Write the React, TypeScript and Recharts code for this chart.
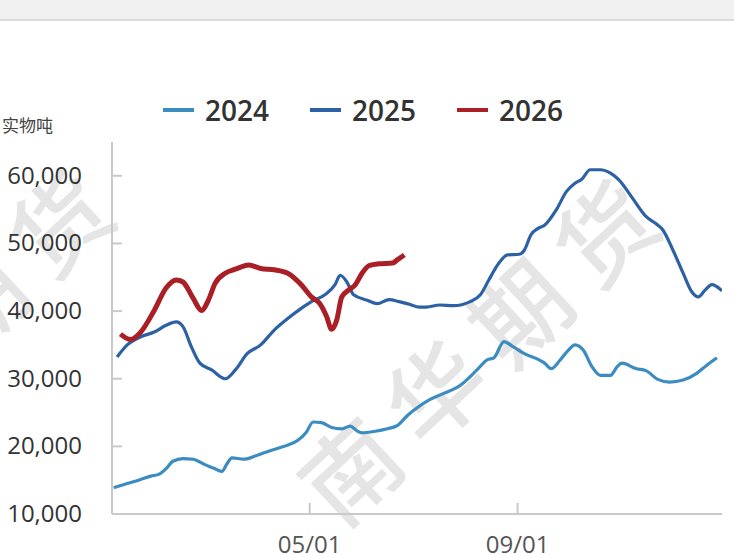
import React from 'react';
import { LineChart, Line, XAxis, YAxis } from 'recharts';

// x = day of year (Jan 1 = 0), values in 实物吨
const days2024 = [4, 12, 20, 26, 31, 35, 39, 45, 51, 58, 63, 68, 71, 74, 81, 89, 97, 105, 113, 118, 122, 127, 133, 139, 144, 148, 151, 158, 166, 172, 178, 183, 191, 199, 209, 219, 225, 229, 235, 240, 248, 254, 259, 263, 268, 273, 277, 282, 287, 292, 298, 302, 305, 313, 319, 326, 333, 341, 349, 355, 361];
const values2024 = [13900, 14500, 15100, 15600, 15900, 16700, 17800, 18200, 18100, 17300, 16800, 16300, 17400, 18300, 18100, 18700, 19400, 20000, 20900, 22100, 23600, 23500, 22800, 22600, 23000, 22300, 22000, 22200, 22600, 23100, 24600, 25600, 26900, 27800, 29000, 31300, 32800, 33100, 35500, 34800, 33600, 33000, 32300, 31500, 32700, 34200, 35000, 34200, 31800, 30500, 30500, 31800, 32300, 31500, 31200, 29900, 29500, 29800, 30800, 32000, 33100];

const days2025 = [6, 12, 20, 28, 35, 41, 45, 50, 55, 62, 70, 76, 83, 91, 99, 107, 115, 121, 129, 135, 138, 142, 146, 154, 160, 167, 173, 179, 185, 189, 197, 205, 215, 221, 226, 232, 237, 244, 247, 251, 255, 259, 266, 272, 277, 281, 286, 292, 298, 303, 311, 319, 325, 329, 335, 341, 346, 350, 354, 358, 364];
const values2025 = [33200, 35000, 36200, 36900, 37900, 38400, 37700, 34700, 32300, 31300, 30000, 31300, 33700, 35000, 37200, 38900, 40400, 41400, 42400, 43900, 45300, 44300, 42400, 41600, 41100, 41700, 41400, 41000, 40600, 40600, 40900, 40800, 41400, 42400, 44600, 47100, 48300, 48400, 49000, 51300, 52200, 52700, 55000, 57700, 58900, 59500, 60900, 60900, 60400, 59400, 56700, 54000, 52900, 52000, 49000, 45600, 42900, 42100, 43100, 43900, 43000];

const days2026 = [8, 14, 20, 28, 35, 41, 45, 51, 56, 60, 64, 70, 76, 84, 91, 99, 107, 115, 121, 126, 130, 133, 136, 139, 143, 147, 151, 155, 161, 169, 172, 176];
const values2026 = [36600, 35800, 36900, 40100, 43400, 44600, 44300, 41900, 40100, 41600, 44100, 45600, 46200, 46800, 46300, 46100, 45600, 43900, 42100, 41100, 39200, 37300, 38700, 42100, 43100, 43900, 45600, 46700, 47000, 47100, 47600, 48300];

const xTicks = [120, 243];
const xTickLabels = ['05/01', '09/01'];
const yTicks = [10000, 20000, 30000, 40000, 50000, 60000];

const toRows = (days: number[], vals: number[]) => days.map((d, i) => ({ day: d, value: vals[i] }));

const series = [
  { name: '2024', color: '#3b8cc0', width: 3.2, data: toRows(days2024, values2024) },
  { name: '2025', color: '#2d61a5', width: 3.2, data: toRows(days2025, values2025) },
  { name: '2026', color: '#aa1f25', width: 5, data: toRows(days2026, values2026) },
];

const axisColor = '#c9c9c9';

const YTick = (props: any) => {
  const { x, y, payload } = props;
  return (
    <g>
      <line x1={x + 30} x2={x + 40} y1={y} y2={y} stroke={axisColor} strokeWidth={2} />
      <text x={x} y={y} dy={8} textAnchor="end" fill="#333" fontSize={24} fontFamily="'Open Sans', sans-serif">
        {payload.value.toLocaleString('en-US')}
      </text>
    </g>
  );
};

const XTick = (props: any) => {
  const { x, y, payload } = props;
  const idx = xTicks.indexOf(payload.value);
  return (
    <g>
      <line x1={x} x2={x} y1={y - 31} y2={y - 42} stroke={axisColor} strokeWidth={2} />
      <text x={x} y={y} dy={8} textAnchor="middle" fill="#555" fontSize={24} fontFamily="'Open Sans', sans-serif">
        {xTickLabels[idx]}
      </text>
    </g>
  );
};

// background watermark
const Watermark = () => (
  <svg width={734} height={554} style={{ position: 'absolute', left: 0, top: 0 }}>
    {[[482, 342], [-63, 332]].map(([cx, cy], i) => (
      <text
        key={i}
        x={cx}
        y={cy}
        textAnchor="middle"
        dominantBaseline="central"
        fontSize={96}
        fontWeight={500}
        letterSpacing={20}
        fill="#e5e5e5"
        fontFamily="'Noto Sans CJK SC', sans-serif"
        transform={`rotate(-43 ${cx} ${cy})`}
      >
        南华期货
      </text>
    ))}
  </svg>
);

export default function App() {
  return (
    <div style={{ position: 'absolute', left: 0, top: 0, width: 734, height: 554, background: '#fff', overflow: 'hidden' }}>
      <div style={{ position: 'absolute', left: 0, top: 0, width: 734, height: 19, background: '#f1f1f1', borderBottom: '2px solid #dcdcdc' }} />
      <Watermark />
      <div style={{ position: 'absolute', left: 163, top: 91, display: 'flex', alignItems: 'center', height: 38 }}>
        {series.map((s) => (
          <div key={s.name} style={{ display: 'flex', alignItems: 'center', marginRight: 41 }}>
            <div style={{ width: 31, height: 4, background: s.color, marginRight: 11 }} />
            <span style={{ fontFamily: "'Open Sans', sans-serif", fontWeight: 600, fontSize: 28, color: '#333', lineHeight: '38px' }}>{s.name}</span>
          </div>
        ))}
      </div>
      <div style={{ position: 'absolute', left: 2, top: 113, fontFamily: "'Noto Sans CJK SC', sans-serif", fontSize: 17, color: '#444', lineHeight: '24px' }}>
        实物吨
      </div>
      <div style={{ position: 'absolute', left: 0, top: 0 }}>
        <LineChart width={734} height={554} margin={{ top: 142, right: 12, bottom: 0, left: 0 }}>
          <XAxis
            dataKey="day"
            type="number"
            domain={[3, 364]}
            ticks={xTicks}
            height={40}
            tickSize={0}
            tickMargin={31}
            tickLine={false}
            axisLine={{ stroke: axisColor, strokeWidth: 2 }}
            tick={<XTick />}
            allowDataOverflow
          />
          <YAxis
            type="number"
            domain={[10000, 65000]}
            ticks={yTicks}
            width={112}
            tickSize={0}
            tickMargin={30}
            tickLine={false}
            axisLine={{ stroke: axisColor, strokeWidth: 2 }}
            tick={<YTick />}
            allowDataOverflow
          />
          {series.map((s) => (
            <Line
              key={s.name}
              data={s.data}
              dataKey="value"
              name={s.name}
              type="monotone"
              stroke={s.color}
              strokeWidth={s.width}
              dot={false}
              activeDot={false}
              isAnimationActive={false}
            />
          ))}
        </LineChart>
      </div>
    </div>
  );
}
